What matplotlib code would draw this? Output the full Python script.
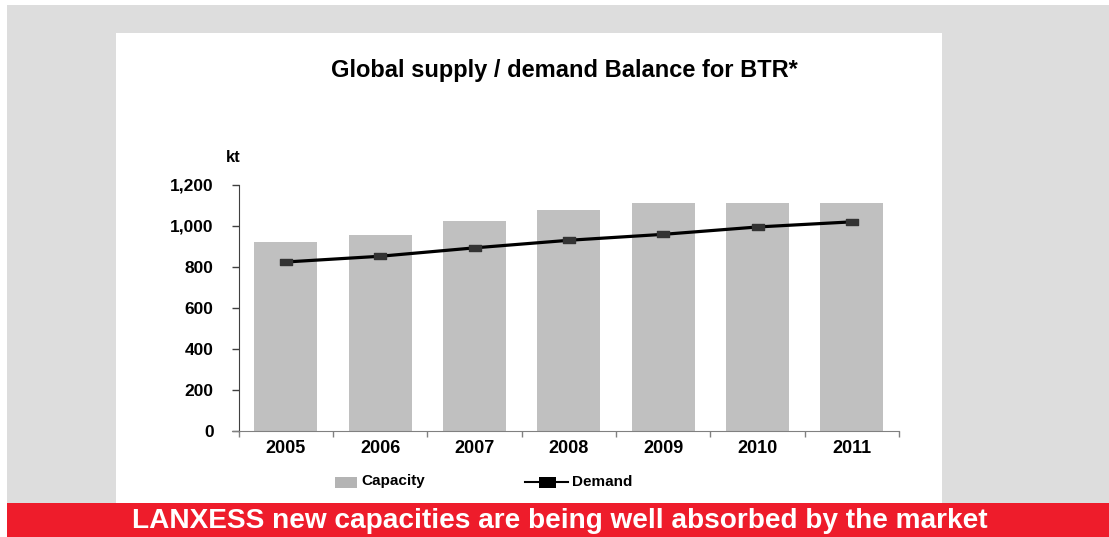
import matplotlib.pyplot as plt
from matplotlib.patches import Rectangle
from matplotlib.lines import Line2D
from matplotlib.path import Path

plt.rcParams['font.family'] = ['Liberation Sans', 'DejaVu Sans']
plt.rcParams['font.weight'] = 'bold'

years = ['2005', '2006', '2007', '2008', '2009', '2010', '2011']
capacity = [920, 955, 1023, 1076, 1110, 1110, 1110]
demand = [824, 852, 893, 930, 959, 995, 1020]

W, H = 1109, 537
fig = plt.figure(figsize=(W / 100, H / 100), dpi=100, facecolor='white')


def px_rect(x0, y0, x1, y1, color):
    # rectangle given in pixel coords (top-left origin)
    fig.add_artist(Rectangle((x0 / W, 1 - y1 / H), (x1 - x0) / W, (y1 - y0) / H,
                             transform=fig.transFigure, color=color, lw=0, zorder=-10))


px_rect(7, 5, W, 503, '#dddddd')
px_rect(116, 33, 942, 503, 'white')
px_rect(7, 503, W, H, '#ee1c2b')

ax = fig.add_axes([238.7 / W, 1 - 430.7 / H, (899 - 238.7) / W, (430.7 - 185) / H])
ax.set_facecolor('none')

x = list(range(len(years)))
ax.bar(x, capacity, width=0.667, color='#c0c0c0', zorder=1)

rect_marker = Path([(-1, -0.5), (1, -0.5), (1, 0.5), (-1, 0.5), (-1, -0.5)],
                   [Path.MOVETO, Path.LINETO, Path.LINETO, Path.LINETO, Path.CLOSEPOLY])
ax.plot(x, demand, color='black', lw=2.3, zorder=3)
ax.plot(x, demand, ls='none', marker=rect_marker, ms=8.5, color='#333333', zorder=4)

ax.set_xlim(-0.5, len(years) - 0.5)
ax.set_ylim(0, 1200)
ax.set_yticks(range(0, 1201, 200))
ax.set_yticklabels([f'{v:,}' for v in range(0, 1201, 200)])
ax.set_xticks(x)
ax.set_xticklabels(years)
ax.set_xticks([i - 0.5 for i in range(len(years) + 1)], minor=True)

ax.tick_params(axis='x', which='major', length=0, pad=7, labelsize=13)
ax.tick_params(axis='x', which='minor', length=4, width=1, color='#808080', direction='out')
ax.tick_params(axis='y', length=5, width=1, color='#404040', pad=13, labelsize=12.5)

for s in ['top', 'right']:
    ax.spines[s].set_visible(False)
ax.spines['left'].set_color('#404040')
ax.spines['bottom'].set_color('#808080')
ax.spines['bottom'].set_bounds(-0.5 - 6.7 / 94.5, len(years) - 0.5)

fig.text(564 / W, 1 - 70 / H, 'Global supply / demand Balance for BTR*',
         ha='center', va='center', fontsize=17, fontweight='bold')
fig.text(233 / W, 1 - 157 / H, 'kt', ha='center', va='center', fontsize=12, fontweight='bold')

# legend
fig.add_artist(Rectangle((335 / W, 1 - 488 / H), 22 / W, 11 / H, transform=fig.transFigure,
                         color='#b4b4b4', lw=0))
fig.text(361 / W, 1 - 481 / H, 'Capacity', ha='left', va='center', fontsize=11, fontweight='bold')
fig.add_artist(Line2D([525 / W, 568 / W], [1 - 482 / H, 1 - 482 / H], transform=fig.transFigure,
                      color='black', lw=1.5))
fig.add_artist(Rectangle((539 / W, 1 - 488 / H), 17 / W, 11 / H, transform=fig.transFigure,
                         color='black', lw=0))
fig.text(572 / W, 1 - 482 / H, 'Demand', ha='left', va='center', fontsize=11, fontweight='bold')

fig.text(560 / W, 1 - 520.5 / H, 'LANXESS new capacities are being well absorbed by the market',
         ha='center', va='center', fontsize=20.2, fontweight='bold', color='white')

fig.savefig('out.png', dpi=100, facecolor='white')
